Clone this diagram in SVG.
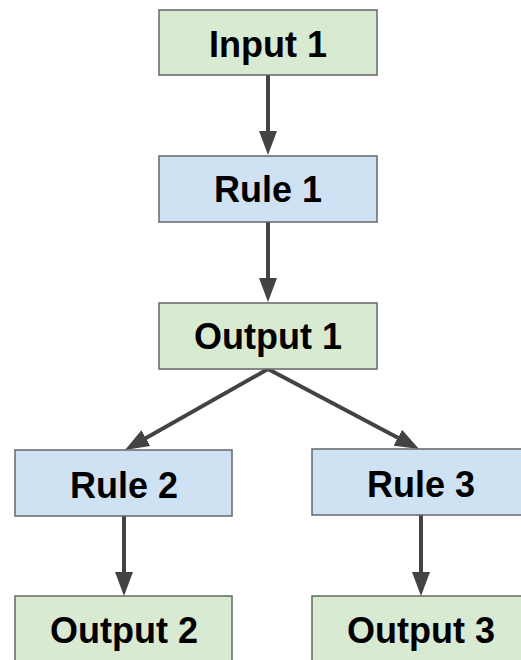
<svg xmlns="http://www.w3.org/2000/svg" width="521" height="660" viewBox="0 0 521 660">
<style>
.box{stroke:#666666;stroke-width:1.5}
.g{fill:#d9ead3}
.b{fill:#cfe2f3}
.t{font-family:"Liberation Sans",Arial,sans-serif;font-weight:bold;font-size:36px;fill:#000;text-anchor:middle}
.c{stroke:#434343;stroke-width:4;fill:none}
</style>
<defs>
<marker id="ah" markerUnits="userSpaceOnUse" markerWidth="24" markerHeight="18" viewBox="0 0 24 18" refX="14" refY="9" orient="auto">
<path d="M0,0 L24,9 L0,18 z" fill="#434343"/>
</marker>
</defs>
<rect width="521" height="660" fill="#ffffff"/>
<g id="connectors">
<line class="c" x1="268" y1="75" x2="268" y2="145" marker-end="url(#ah)"/>
<line class="c" x1="268" y1="222" x2="268" y2="292" marker-end="url(#ah)"/>
<line class="c" x1="268" y1="369" x2="133.7" y2="445.1" marker-end="url(#ah)"/>
<line class="c" x1="268" y1="369" x2="410.2" y2="444.3" marker-end="url(#ah)"/>
<line class="c" x1="124" y1="516" x2="124" y2="586" marker-end="url(#ah)"/>
<line class="c" x1="421" y1="515" x2="421" y2="586" marker-end="url(#ah)"/>
</g>
<g id="input1"><rect class="box g" x="159" y="10" width="218" height="65"/><text class="t" x="268" y="57">Input 1</text></g>
<g id="rule1"><rect class="box b" x="159" y="156" width="218" height="66"/><text class="t" x="268" y="202">Rule 1</text></g>
<g id="output1"><rect class="box g" x="159" y="303" width="218" height="66"/><text class="t" x="268" y="349">Output 1</text></g>
<g id="rule2"><rect class="box b" x="15" y="450" width="217" height="66"/><text class="t" x="124" y="498">Rule 2</text></g>
<g id="rule3"><rect class="box b" x="312" y="449" width="218" height="66"/><text class="t" x="421" y="497">Rule 3</text></g>
<g id="output2"><rect class="box g" x="15" y="596" width="217" height="70"/><text class="t" x="124" y="643">Output 2</text></g>
<g id="output3"><rect class="box g" x="312" y="596" width="218" height="70"/><text class="t" x="421" y="643">Output 3</text></g>
</svg>
